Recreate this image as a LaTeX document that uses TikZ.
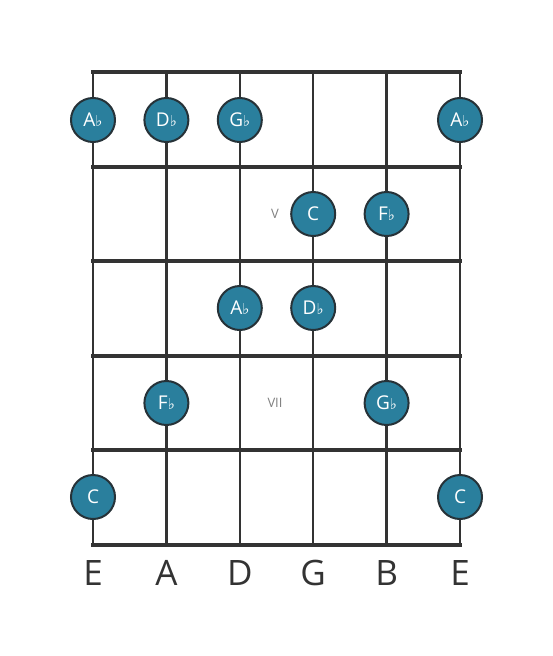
\documentclass[tikz,border=0pt]{standalone}
\usepackage{fontspec}
\setmainfont{Open Sans}
\newfontfamily\symfont{DejaVu Sans}
\definecolor{dotblue}{HTML}{2A7F9D}
\definecolor{dotrim}{HTML}{263238}
\definecolor{gridgray}{HTML}{333333}
\tikzstyle{note}=[circle, minimum size=44pt, inner sep=0pt, fill=dotblue, draw=dotrim, line width=2pt, text=white, font=\fontsize{19}{19}\selectfont]
\tikzstyle{fretnum}=[text=gray, font=\fontsize{13}{13}\selectfont]
\tikzstyle{stringname}=[text=gridgray, font=\fontsize{35}{35}\selectfont]
\tikzstyle{fret}=[gridgray, line width=4pt]
\tikzstyle{string}=[gridgray, line width=2.5pt]
\newcommand{\fl}{{\symfont\fontsize{15}{15}\selectfont ♭}}

\begin{document}
\begin{tikzpicture}[x=1pt,y=-1pt]
    \useasboundingbox (0,0) rectangle (553,656);

    % Strings
    \foreach \x in {93,166.4,239.8,313.2,386.6,460}
        \draw[string] (\x,72) -- (\x,545);

    % Frets
    \foreach \y in {72,166.6,261.2,355.8,450.4,545}
        \draw[fret] (91,\y) -- (462,\y);

    % Fret numbers
    \draw (275,214) node[fretnum] (v) {V};
    \draw (275,403) node[fretnum] (vii) {VII};

    % Notes
    \draw (93,120) node[note] (e1) {A\fl};
    \draw (166.4,120) node[note] (a1) {D\fl};
    \draw (239.8,120) node[note] (d1) {G\fl};
    \draw (460,120) node[note] (ee1) {A\fl};
    \draw (313.2,214) node[note] (g2) {C};
    \draw (386.6,214) node[note] (b2) {F\fl};
    \draw (239.8,308) node[note] (d3) {A\fl};
    \draw (313.2,308) node[note] (g3) {D\fl};
    \draw (166.4,403) node[note] (a4) {F\fl};
    \draw (386.6,403) node[note] (b4) {G\fl};
    \draw (93,497) node[note] (e5) {C};
    \draw (460,497) node[note] (ee5) {C};

    % String names
    \draw (93,573) node[stringname] (ne) {E};
    \draw (166.4,573) node[stringname] (na) {A};
    \draw (239.8,573) node[stringname] (nd) {D};
    \draw (313.2,573) node[stringname] (ng) {G};
    \draw (386.6,573) node[stringname] (nb) {B};
    \draw (460,573) node[stringname] (nee) {E};
\end{tikzpicture}
\end{document}
